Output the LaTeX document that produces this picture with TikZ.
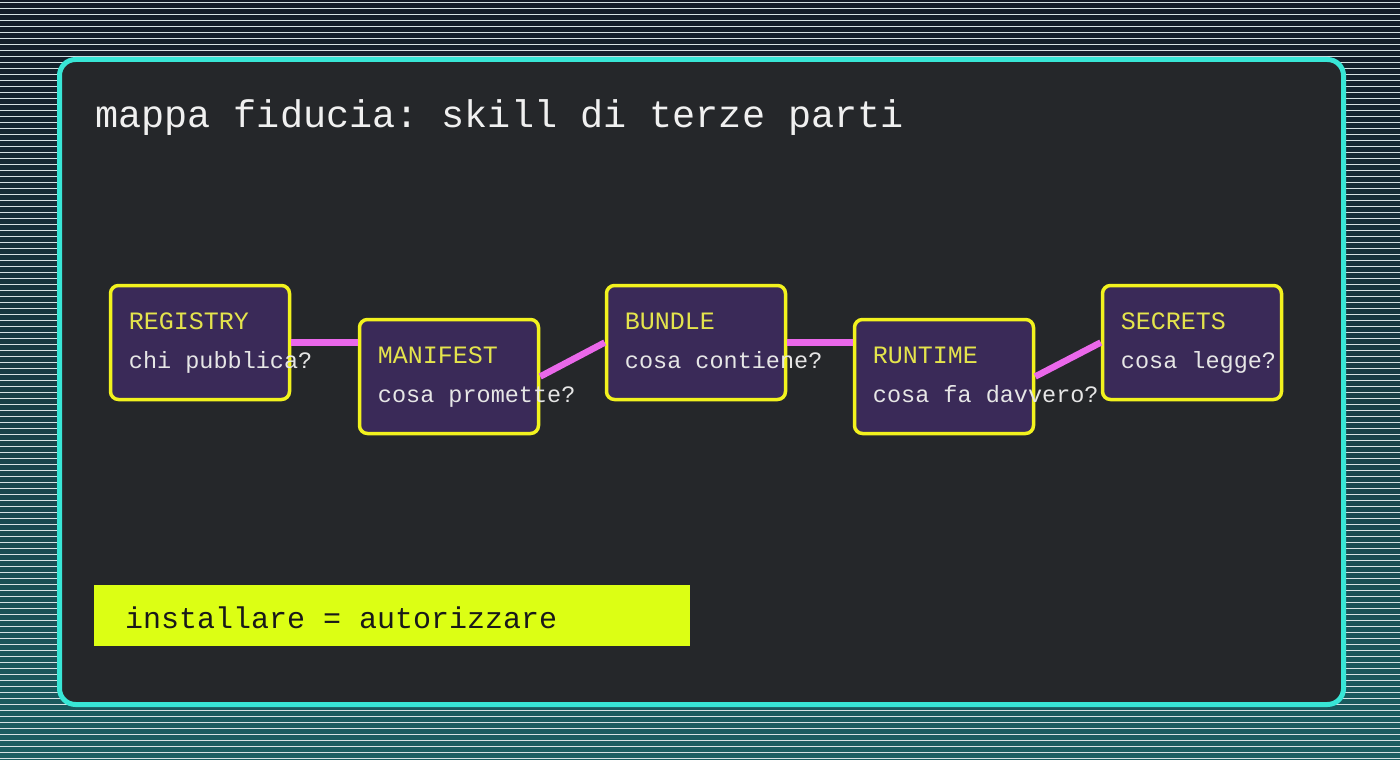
\documentclass[tikz,border=0pt]{standalone}
\usepackage{fontspec}
\setmonofont{Liberation Mono}
\usetikzlibrary{positioning, calc}

\definecolor{bgtop}{HTML}{131B27}
\definecolor{bgbot}{HTML}{1B5E62}
\definecolor{stripe}{HTML}{D6E2E4}
\definecolor{panel}{HTML}{25272A}
\definecolor{frame}{HTML}{38E6D6}
\definecolor{boxfill}{HTML}{3A2A58}
\definecolor{boxline}{HTML}{F2F21E}
\definecolor{headcol}{HTML}{E4E44C}
\definecolor{askcol}{HTML}{E6E6E6}
\definecolor{link}{HTML}{EA68EA}
\definecolor{callout}{HTML}{DCFF14}

\tikzset{
  stage/.style={draw=boxline, line width=3.5pt, fill=boxfill, rounded corners=8pt,
    minimum width=179pt, minimum height=114pt},
  head/.style={anchor=base west, inner sep=0pt, text=headcol,
    font=\ttfamily\fontsize{25}{25}\selectfont},
  ask/.style={anchor=base west, inner sep=0pt, text=askcol,
    font=\ttfamily\fontsize{23.5}{23.5}\selectfont},
  link/.style={draw=link, line width=6.5pt}
}

\begin{document}
\begin{tikzpicture}[x=1pt, y=-1pt]
    % Background with stripes
    \useasboundingbox (0,0) rectangle (1400,760);
    \shade [top color=bgtop, bottom color=bgbot] (0,0) rectangle (1400,760);
    \foreach \y in {2,8,...,758}
        \draw [stripe, line width=0.9pt] (0,\y) -- (1400,\y);
    % Panel
    \draw [frame, fill=panel, line width=5pt, rounded corners=16pt] (59.5,59.5) rectangle (1343.5,704.5);
    \node (title) [anchor=base west, inner sep=0pt, text=white!94!black,
        font=\ttfamily\fontsize{38.5}{38.5}\selectfont] at (95,127) {mappa fiducia: skill di terze parti};
    % Stages
    \node (reg) [stage] at (200,342.5) {};
    \node (man) [stage] at (449,376.5) {};
    \node (bun) [stage] at (696,342.5) {};
    \node (run) [stage] at (944,376.5) {};
    \node (sec) [stage] at (1192,342.5) {};
    \node (reg-h) [head] at ([shift={(20,46)}]reg.north west) {REGISTRY};
    \node (reg-q) [ask] at ([shift={(20,85)}]reg.north west) {chi pubblica?};
    \node (man-h) [head] at ([shift={(20,46)}]man.north west) {MANIFEST};
    \node (man-q) [ask] at ([shift={(20,85)}]man.north west) {cosa promette?};
    \node (bun-h) [head] at ([shift={(20,46)}]bun.north west) {BUNDLE};
    \node (bun-q) [ask] at ([shift={(20,85)}]bun.north west) {cosa contiene?};
    \node (run-h) [head] at ([shift={(20,46)}]run.north west) {RUNTIME};
    \node (run-q) [ask] at ([shift={(20,85)}]run.north west) {cosa fa davvero?};
    \node (sec-h) [head] at ([shift={(20,46)}]sec.north west) {SECRETS};
    \node (sec-q) [ask] at ([shift={(20,85)}]sec.north west) {cosa legge?};
    % Links
    \draw [link] (reg.east) -- (reg.east -| man.west);
    \draw [link] (man.east) -- (bun.west);
    \draw [link] (bun.east) -- (bun.east -| run.west);
    \draw [link] (run.east) -- (sec.west);
    % Callout
    \node (rule) [fill=callout, minimum width=596pt, minimum height=61pt, inner sep=0pt, anchor=north west] at (94,585) {};
    \node (rule-t) [anchor=base west, inner sep=0pt, text=black!90,
        font=\ttfamily\fontsize{30}{30}\selectfont] at ([shift={(31,43)}]rule.north west) {installare = autorizzare};
\end{tikzpicture}
\end{document}
